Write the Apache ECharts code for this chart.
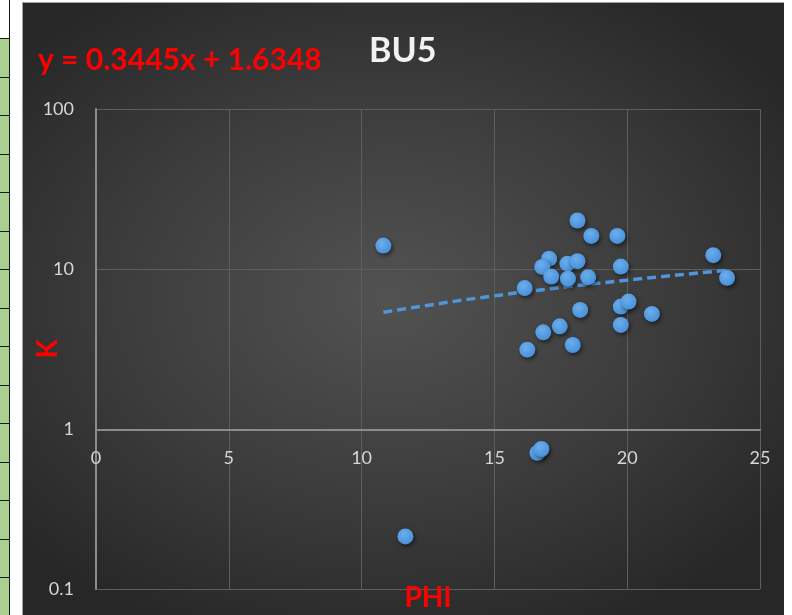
<!DOCTYPE html>
<html>
<head>
<meta charset="utf-8">
<script src="https://cdn.jsdelivr.net/npm/echarts@6/dist/echarts.min.js"></script>
<style>
  html, body { margin: 0; padding: 0; background: #ffffff; width: 792px; height: 615px; overflow: hidden; }
  #strip { position: absolute; left: 0; top: 0; width: 9px; height: 615px; border-right: 1px solid #1a1a1a; background: #a9d08e; }
  .cellTop { position: absolute; left: 0; top: 0; width: 9px; height: 38px; background: #ffffff; }
  .line { position: absolute; left: 0; width: 9px; height: 1px; background: #1a1a1a; }
  #chart { position: absolute; left: 22px; top: 2px; width: 761px; height: 613px;
           border-top: 1px solid #a0a0a0; border-left: 1px solid #a0a0a0;
           background: radial-gradient(ellipse 65% 60% at 48% 48%, #525252 0%, #3c3c3c 55%, #272727 100%); }
</style>
</head>
<body>
<div id="strip"><div class="cellTop"></div></div>
<div id="chart"></div>
<script>
// ---- data ----
var phi = [10.82, 11.65, 16.62, 16.77, 18.13, 18.65, 19.63, 23.24, 23.76,
           17.06, 16.80, 17.14, 17.75, 18.13, 17.77, 18.53, 19.76, 16.14,
           18.23, 19.76, 20.05, 20.93, 19.76, 17.46, 16.84, 16.24, 17.95];
var k   = [14.0, 0.213, 0.71, 0.75, 20.1, 16.1, 16.1, 12.2, 8.81,
           11.6, 10.3, 8.97, 10.8, 11.2, 8.7, 8.89, 10.36, 7.6,
           5.55, 5.82, 6.26, 5.24, 4.47, 4.38, 4.02, 3.13, 3.35];
// trend line points (linear trend y = 0.3445x + 1.6348 as drawn on the log axis)
var trendX = [10.82, 12, 14, 16, 18, 20, 22, 23.78];
var trendY = [5.36, 5.77, 6.46, 7.15, 7.84, 8.52, 9.21, 9.83];
var xTicks = [0, 5, 10, 15, 20, 25];
var yTicks = [0.1, 1, 10, 100];
var titleText = 'BU5';
var equationText = 'y = 0.3445x + 1.6348';
var xName = 'PHI';
var yName = 'K';

// spreadsheet strip borders
(function () {
  var strip = document.getElementById('strip');
  for (var y = 38; y < 615; y += 38.5) {
    var d = document.createElement('div');
    d.className = 'line';
    d.style.top = Math.round(y) + 'px';
    strip.appendChild(d);
  }
})();

var pts = phi.map(function (v, i) { return [v, k[i]]; });
var trend = trendX.map(function (v, i) { return [v, trendY[i]]; });

var chart = echarts.init(document.getElementById('chart'), null, { renderer: 'canvas', width: 761, height: 613 });
var font = 'Lato, "Open Sans", sans-serif';
chart.setOption({
  backgroundColor: 'transparent',
  animation: false,
  title: {
    text: titleText,
    left: 341, top: 26,
    textStyle: { color: '#f2f2f2', fontFamily: font, fontWeight: 'bold', fontSize: 34 }
  },
  graphic: [{
    type: 'text', left: 15, top: 42,
    style: { text: equationText, fill: '#ff0000', font: 'bold 30px ' + font }
  }],
  grid: { left: 73, top: 106, right: 24, bottom: 27, containLabel: false, outerBoundsMode: 'none' },
  xAxis: {
    type: 'value', min: xTicks[0], max: xTicks[xTicks.length - 1], interval: 5,
    position: 'bottom', offset: -159,
    name: xName, nameLocation: 'middle', nameGap: 154, nameMoveOverlap: false,
    nameTextStyle: { color: '#ff0000', fontFamily: font, fontWeight: 'bold', fontSize: 28 },
    axisLine: { show: true, lineStyle: { color: '#8c8c8c', width: 2 } },
    axisTick: { show: false },
    axisLabel: { color: '#d6d6d6', fontFamily: font, fontSize: 18, margin: 19 },
    splitLine: { show: true, lineStyle: { color: '#5e5e5e', width: 1 } }
  },
  yAxis: {
    type: 'log', logBase: 10, min: yTicks[0], max: yTicks[yTicks.length - 1],
    name: yName, nameLocation: 'middle', nameGap: 34, nameRotate: 90, nameMoveOverlap: false,
    nameTextStyle: { color: '#ff0000', fontFamily: font, fontWeight: 'bold', fontSize: 28 },
    axisLine: { show: true, lineStyle: { color: '#8c8c8c', width: 2 } },
    axisTick: { show: false },
    axisLabel: { color: '#d6d6d6', fontFamily: font, fontSize: 18, margin: 22,
                 formatter: function (v) { return String(+v.toPrecision(3)); } },
    splitLine: { show: true, lineStyle: { color: '#5e5e5e', width: 1 } }
  },
  series: [{
    type: 'line', data: trend, showSymbol: false, symbol: 'none', smooth: false,
    lineStyle: { color: '#4f95da', width: 3.5, type: [9, 5] }, z: 3
  }, {
    type: 'scatter', data: pts, symbol: 'circle', symbolSize: 16, z: 4,
    itemStyle: {
      opacity: 1,
      color: new echarts.graphic.RadialGradient(0.4, 0.35, 0.7, [
        { offset: 0, color: '#6aaeec' }, { offset: 1, color: '#478ed8' }
      ]),
      shadowBlur: 4, shadowColor: 'rgba(0,0,0,0.55)', shadowOffsetX: 1.5, shadowOffsetY: 2
    }
  }]
});
</script>
</body>
</html>
